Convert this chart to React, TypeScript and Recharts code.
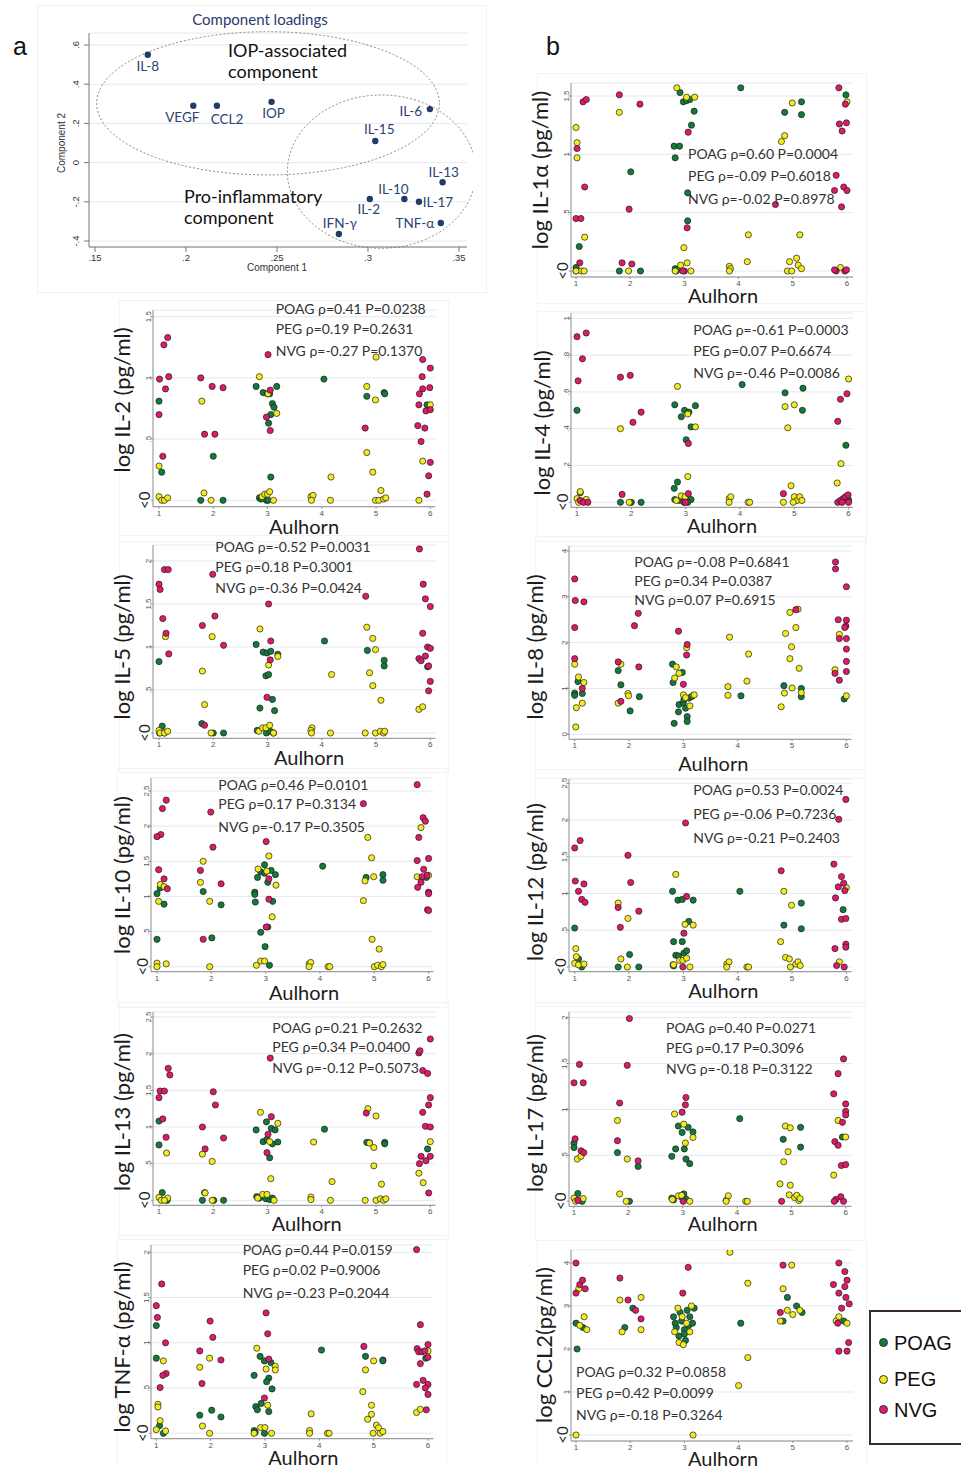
import React from "react";
import { ScatterChart, Scatter, XAxis, YAxis, CartesianGrid, ReferenceArea } from "recharts";

type Pt = [number, number];
type Group = "POAG" | "PEG" | "NVG";

const COLORS: Record<Group, string> = { POAG: "#127a3a", PEG: "#f3ec1c", NVG: "#e1196a" };
const GROUPS: Group[] = ["POAG", "PEG", "NVG"];
const AULHORN_TICKS = [1, 2, 3, 4, 5, 6];

// ---- component loadings ----
const LOAD_NAMES = ["IL-8", "VEGF", "CCL2", "IOP", "IL-6", "IL-15", "IL-13", "IL-10", "IL-2", "IL-17", "TNF-α", "IFN-γ"];
const LOAD_C1 = [0.179, 0.204, 0.217, 0.247, 0.334, 0.304, 0.341, 0.32, 0.301, 0.328, 0.34, 0.284];
const LOAD_C2 = [0.55, 0.29, 0.29, 0.31, 0.273, 0.11, -0.1, -0.186, -0.186, -0.2, -0.308, -0.364];
const LOAD_X_TICKS = [0.15, 0.2, 0.25, 0.3, 0.35];
const LOAD_Y_TICKS = [-0.4, -0.2, 0, 0.2, 0.4, 0.6];

// ---- IL-1α ----
const IL1A_POAG: Pt[] = [[1.0,0.03],[1.0,0],[1.06,0.21],[1.8,0],[2.19,0],[2.01,0.85],[2.81,1.07],[2.83,0.97],[2.91,1.07],[2.92,1.53],[2.98,1.45],[3.04,1.46],[3.1,1.47],[3.18,1.37],[3.13,1.25],[3.06,0.67],[3.06,0.43],[2.83,0.02],[2.85,0],[2.87,0.01],[4.04,1.57],[4.85,1.36],[5.16,1.45],[5.16,1.34],[5.98,1.51]];
const IL1A_PEG: Pt[] = [[1.0,1.23],[1.02,1.1],[1.02,0.97],[1.16,0.29],[1.1,0],[1.15,0],[1.0,0],[1.8,1.36],[1.97,0],[2.86,1.57],[3.04,1.49],[3.19,1.49],[2.99,0.2],[3.05,0.07],[2.93,0.05],[3.12,0],[2.83,0],[3.83,0.04],[3.85,0.02],[3.83,0],[4.18,0.31],[4.16,0.08],[4.79,1.11],[4.85,1.16],[4.99,1.44],[5.13,0.31],[4.94,0.08],[5.07,0.11],[5.1,0.05],[5.16,0.02],[4.9,0],[4.98,0],[6.0,1.45],[5.88,0.03]];
const IL1A_NVG: Pt[] = [[1.13,1.45],[1.19,1.47],[1.02,1.05],[1.16,0.72],[1.0,0.45],[1.09,0.45],[1.07,0.07],[1.8,1.51],[2.18,1.43],[1.98,0.53],[1.85,0.07],[2.03,0.06],[3.07,1.19],[3.05,0.37],[3.0,0],[2.97,0],[5.85,1.57],[5.97,1.43],[5.86,1.26],[5.99,1.27],[5.91,1.2],[5.8,0.82],[5.77,0.69],[5.94,0.72],[6.0,0.69],[4.68,0.57],[5.9,0.55],[5.8,0],[5.77,0.01],[5.96,0],[5.99,0.01]];

// ---- IL-2 ----
const IL2_POAG: Pt[] = [[1.0,0.81],[1.05,0.23],[1.77,0],[2.18,0],[2.0,0.36],[2.79,0.93],[2.92,0.88],[3.04,0.87],[3.0,0.87],[3.17,0.93],[3.09,0.79],[3.12,0.76],[3.06,0.7],[3.02,0.63],[3.06,0.19],[2.85,0.02],[2.88,0.01],[2.98,0],[3.01,0],[4.04,0.99],[4.83,0.85],[5.15,0.88],[5.16,0.87],[5.94,0.78]];
const IL2_PEG: Pt[] = [[1.0,0.28],[1.0,0.03],[1.05,0],[1.1,0],[1.16,0.02],[1.79,0.81],[1.83,0.06],[1.96,0],[2.85,1.01],[3.01,0.87],[3.17,0.71],[2.9,0.03],[2.95,0.05],[3.0,0.05],[3.04,0.07],[3.11,0],[3.8,0.03],[3.84,0.04],[3.81,0],[4.17,0.19],[4.16,0],[5.0,1.17],[4.83,0.39],[4.83,0.93],[4.99,0.82],[4.94,0.23],[5.09,0.08],[4.99,0],[5.05,0],[5.14,0.01],[5.18,0.02],[5.79,0],[5.86,0.32],[6.0,0.78]];
const IL2_NVG: Pt[] = [[1.16,1.33],[1.09,1.27],[1.01,0.99],[1.18,1.01],[1.12,0.91],[1.0,0.7],[1.07,0.36],[1.77,1.0],[1.98,0.93],[2.18,0.92],[1.84,0.54],[2.03,0.54],[3.01,1.19],[3.05,0.9],[2.98,0.68],[3.05,0.57],[5.86,1.15],[6.0,1.08],[5.85,1.01],[5.86,0.91],[5.99,0.92],[5.8,0.87],[5.79,0.78],[5.92,0.73],[6.0,0.74],[5.77,0.61],[5.9,0.59],[5.83,0.48],[6.0,0.31],[5.97,0.2],[5.94,0.05],[4.8,0.59]];

// ---- IL-4 ----
const IL4_POAG: Pt[] = [[1.0,0.5],[1.06,0.052],[1.8,0],[2.0,0],[2.18,0],[2.8,0.53],[3.18,0.525],[2.92,0.465],[2.98,0.5],[3.06,0.49],[3.1,0.41],[3.01,0.34],[2.79,0.076],[2.85,0.11],[2.8,0.015],[2.88,0.01],[3.1,0.015],[3.04,0],[4.04,0.64],[4.83,0.595],[5.16,0.62],[5.15,0.5],[5.95,0.31],[6.0,0.013]];
const IL4_PEG: Pt[] = [[1.0,0.02],[1.06,0.058],[1.17,0.016],[1.03,0],[1.8,0.4],[1.96,0],[2.85,0.63],[3.04,0.48],[3.18,0.41],[3.04,0.14],[2.83,0.01],[2.92,0.035],[2.99,0.03],[3.8,0.02],[3.83,0.03],[3.8,0],[4.15,0],[4.18,0],[4.83,0.52],[5.0,0.53],[4.88,0.405],[4.94,0.09],[5.0,0.03],[5.05,0.01],[5.1,0.03],[5.14,0.01],[4.8,0],[4.98,0],[5.79,0.105],[5.86,0.21],[6.0,0.67]];
const IL4_NVG: Pt[] = [[1.0,0.9],[1.17,0.92],[1.1,0.78],[1.02,0.66],[1.06,0.01],[1.12,0],[1.2,0],[1.8,0.68],[1.98,0.69],[2.18,0.49],[2.03,0.435],[1.83,0.043],[3.05,0.32],[3.05,0.047],[2.97,0],[3.0,0],[4.8,0.047],[5.97,0.59],[5.85,0.56],[5.8,0.44],[5.8,0],[5.85,0.01],[5.9,0.02],[5.94,0.03],[5.99,0.04],[5.88,0],[6.0,0]];

// ---- IL-5 ----
const IL5_POAG: Pt[] = [[1.0,0.83],[1.06,0.08],[1.1,0],[1.01,0],[1.79,0.11],[2.0,0],[2.19,0],[2.79,1.03],[2.92,0.94],[2.99,0.93],[3.06,0.95],[3.19,0.915],[2.97,0.665],[3.02,0.68],[2.86,0.29],[3.09,0.39],[3.13,0.26],[2.81,0.03],[2.98,0],[3.05,0.02],[3.11,0],[4.05,1.07],[4.84,0.96],[5.15,0.845],[5.15,0.78],[5.95,0.77]];
const IL5_PEG: Pt[] = [[1.0,0.03],[1.02,0],[1.1,0],[1.16,0.02],[1.12,1.12],[1.8,0.72],[1.84,0.33],[1.98,1.12],[1.96,0],[2.86,1.21],[3.02,0.79],[3.19,0.89],[2.84,0.02],[2.91,0.06],[2.97,0.06],[3.04,0.09],[3.11,0],[3.82,0.06],[3.8,0.03],[3.81,0],[4.18,0.68],[4.16,0],[4.83,1.23],[4.94,1.1],[4.99,0.97],[4.88,0.7],[4.94,0.55],[5.09,0.38],[4.8,0],[4.99,0],[5.08,0.02],[5.14,0],[5.16,0.02],[5.79,0.275],[5.86,0.305]];
const IL5_NVG: Pt[] = [[1.0,1.73],[1.02,1.67],[1.1,1.9],[1.17,1.9],[1.07,1.33],[1.13,1.16],[1.18,0.92],[1.99,1.845],[2.03,1.36],[1.8,1.25],[2.19,1.02],[1.84,0.09],[3.02,1.5],[3.06,1.07],[3.05,0.85],[2.99,0.415],[4.81,1.59],[5.8,2.14],[5.87,1.73],[5.91,1.56],[6.0,1.47],[5.86,1.16],[5.95,1.0],[6.0,0.985],[5.91,0.895],[5.79,0.865],[5.83,0.84],[5.97,0.78],[6.0,0.6],[5.97,0.49]];

// ---- IL-8 ----
const IL8_POAG: Pt[] = [[1.0,0.9],[1.0,0.85],[1.06,1.15],[1.14,0.89],[1.8,1.39],[1.85,1.08],[2.02,0.51],[2.19,0.82],[2.8,1.53],[2.81,1.13],[2.98,1.35],[2.83,0.24],[2.91,0.49],[2.92,0.65],[3.0,0.69],[3.01,0.76],[3.04,0.57],[3.07,0.385],[3.07,0.28],[3.1,0.79],[3.15,0.82],[4.06,0.84],[4.85,1.06],[5.17,1.0],[5.17,0.82],[5.96,0.77]];
const IL8_PEG: Pt[] = [[1.0,1.53],[1.07,1.25],[1.17,1.13],[1.14,0.68],[1.03,0.58],[1.02,0.16],[1.85,1.53],[1.8,0.68],[1.98,0.89],[1.99,0.84],[2.87,1.47],[2.84,1.23],[2.92,1.33],[3.06,1.89],[3.0,0.86],[3.04,0.8],[3.12,0.62],[3.18,0.85],[3.2,0.86],[3.82,1.04],[3.82,0.85],[3.85,2.12],[4.17,1.16],[4.2,1.75],[4.8,0.6],[4.96,2.66],[4.88,2.2],[4.99,1.91],[4.96,1.65],[4.86,0.9],[5.0,1.01],[5.07,2.33],[5.11,2.73],[5.13,1.44],[5.17,0.91],[5.79,1.41],[5.87,2.18],[6.0,0.84]];
const IL8_NVG: Pt[] = [[1.0,3.39],[1.01,2.92],[1.17,2.89],[1.0,2.33],[1.0,1.65],[1.14,1.0],[1.8,1.58],[1.85,0.72],[2.1,2.37],[2.17,2.64],[2.18,1.47],[2.91,2.25],[3.07,1.96],[3.06,1.73],[3.0,1.09],[5.07,2.72],[5.8,3.76],[5.8,3.61],[6.0,3.22],[5.85,2.5],[6.0,2.49],[5.99,2.36],[5.97,2.33],[5.87,2.09],[6.0,2.09],[6.0,1.86],[6.0,1.59],[6.0,1.37],[5.79,1.33],[5.87,1.18]];

// ---- IL-10 ----
const IL10_POAG: Pt[] = [[1.0,1.04],[1.06,1.12],[1.13,0.89],[1.0,0.39],[1.85,1.07],[2.01,0.41],[2.18,0.88],[2.8,1.06],[2.8,1.03],[2.81,0.92],[2.85,1.27],[2.91,1.35],[2.98,1.45],[2.98,1.33],[3.04,1.2],[3.1,1.37],[3.18,1.31],[3.13,0.93],[2.91,0.49],[2.99,0.285],[3.04,0.565],[3.07,0.02],[4.05,1.43],[4.85,1.27],[5.16,1.31],[5.16,1.23],[5.96,1.27]];
const IL10_PEG: Pt[] = [[1.0,0.05],[1.0,0],[1.17,0.04],[1.03,0.93],[1.06,1.17],[1.13,1.14],[1.8,1.2],[1.85,1.5],[1.97,0.93],[1.97,0],[2.86,1.39],[3.06,1.575],[3.02,1.36],[3.19,1.16],[3.12,0.71],[2.83,0.02],[2.91,0.08],[2.98,0.08],[3.8,0.04],[3.83,0.06],[3.8,0],[4.15,0],[4.18,0],[4.8,0.94],[4.88,1.84],[4.95,1.55],[4.99,1.28],[4.83,1.22],[4.96,0.39],[5.09,0.25],[5.0,0],[5.06,0.02],[5.13,0],[5.16,0.03],[5.86,1.98],[5.79,1.28],[6.0,1.3]];
const IL10_NVG: Pt[] = [[1.17,2.37],[1.1,2.25],[1.07,1.88],[1.0,1.85],[1.03,1.38],[1.13,1.25],[1.19,1.11],[1.99,2.2],[2.03,1.7],[1.8,1.37],[2.18,1.18],[1.85,0.39],[3.01,1.78],[3.06,1.25],[3.06,0.96],[3.01,0.565],[4.8,2.32],[5.79,2.59],[5.9,2.12],[5.94,2.07],[5.82,1.84],[6.0,1.54],[5.79,1.51],[5.91,1.385],[5.97,1.3],[5.88,1.28],[5.86,1.2],[5.8,1.13],[6.0,1.06],[6.0,1.04],[5.98,0.81],[6.0,0.8]];

// ---- IL-12 ----
const IL12_POAG: Pt[] = [[1.0,0.53],[1.07,0.11],[1.13,0],[1.8,0],[2.18,0],[2.01,0.17],[2.8,1.03],[2.9,0.91],[2.98,0.92],[3.18,0.91],[3.1,0.62],[2.82,0.345],[2.98,0.345],[2.86,0.16],[2.91,0.15],[3.01,0.19],[3.06,0.22],[2.81,0.03],[2.82,0.015],[4.04,1.03],[4.85,0.57],[5.17,0.87],[5.17,0.52],[5.94,0.78]];
const IL12_PEG: Pt[] = [[1.02,0.25],[1.03,0.14],[1.0,0.05],[1.07,0.03],[1.17,0.04],[1.8,0.87],[1.98,0.66],[1.85,0.11],[1.97,0],[2.86,1.26],[3.03,0.58],[3.18,0.57],[2.82,0.03],[2.93,0.09],[2.99,0.09],[3.06,0.12],[3.12,0],[3.8,0.04],[3.84,0.07],[3.8,0],[4.17,0],[4.2,0],[4.79,0.345],[4.85,1.03],[4.99,0.84],[4.88,0.13],[4.95,0.11],[4.97,0],[5.07,0.04],[5.11,0.07],[5.15,0.02],[5.87,0.07],[6.0,1.08]];
const IL12_NVG: Pt[] = [[1.0,1.62],[1.1,1.72],[1.01,1.17],[1.07,1.03],[1.17,1.13],[1.13,0.92],[1.19,0.88],[1.98,1.52],[2.03,1.15],[1.8,0.81],[1.84,0.54],[2.18,0.76],[3.04,1.96],[3.06,0.96],[3.01,0.46],[2.99,0],[4.8,1.31],[5.99,2.28],[5.86,2.01],[5.77,1.4],[5.91,1.23],[5.95,1.14],[5.85,1.09],[5.97,1.04],[5.8,0.94],[5.91,0.65],[5.99,0.66],[5.99,0.31],[5.99,0.27],[5.79,0.25],[5.82,0.02],[5.96,0]];

// ---- IL-13 ----
const IL13_POAG: Pt[] = [[1.0,1.08],[1.0,0.755],[1.06,0.105],[1.15,0],[1.8,0],[2.01,0],[2.19,0],[1.84,0.105],[2.79,0.96],[2.98,1.07],[3.07,0.98],[3.14,0.96],[2.92,0.8],[2.99,0.83],[3.09,0.77],[3.19,0.795],[3.04,0.58],[2.8,0.05],[2.85,0.03],[2.91,0.06],[2.97,0.02],[3.04,0.01],[3.09,0.03],[4.05,0.97],[4.83,0.79],[4.88,0.785],[5.16,0.79],[5.16,0.77],[5.95,0.7]];
const IL13_PEG: Pt[] = [[1.0,0.04],[1.04,0],[1.16,0.03],[1.1,0],[1.14,0.645],[1.8,0.63],[1.98,0.53],[1.85,0.1],[1.98,0],[2.87,1.2],[3.19,1.05],[3.04,0.8],[3.06,0.295],[2.82,0.03],[2.91,0.08],[2.99,0.08],[3.12,0],[3.8,0.045],[3.8,0.01],[3.85,0.795],[4.19,0.255],[4.16,0],[4.85,1.25],[5.0,1.15],[4.88,0.78],[4.96,0.72],[4.96,0.47],[5.1,0.22],[4.8,0],[5.0,0],[5.08,0.02],[5.14,0],[5.18,0.02],[5.79,0.37],[5.87,0.24],[6.0,0.8]];
const IL13_NVG: Pt[] = [[1.17,1.8],[1.2,1.71],[1.02,1.49],[1.1,1.49],[1.0,1.4],[1.07,1.11],[1.13,0.86],[2.0,1.48],[2.04,1.3],[1.8,1.0],[1.85,0.7],[2.19,0.85],[3.05,1.94],[3.07,1.14],[3.01,0.9],[2.99,0.65],[4.82,1.19],[5.79,2.01],[5.81,2.04],[6.0,2.2],[5.86,1.77],[5.95,1.73],[6.0,1.4],[5.97,1.3],[5.86,1.2],[5.91,1.01],[6.0,1.0],[5.83,0.6],[6.0,0.6],[5.92,0.54],[5.8,0.5],[5.97,0.1]];

// ---- IL-17 ----
const IL17_POAG: Pt[] = [[1.0,0.635],[1.0,0.585],[1.07,0.085],[1.15,0],[1.8,0.53],[2.02,0],[2.18,0.38],[2.8,0.49],[2.87,0.57],[2.92,0.82],[2.99,0.75],[3.03,0.57],[3.1,0.805],[3.19,0.755],[3.06,0.46],[3.13,0.41],[2.8,0.035],[2.83,0.015],[2.97,0.05],[3.02,0.08],[3.06,0.025],[4.05,0.9],[4.85,0.675],[5.17,0.805],[5.17,0.59],[5.94,0.7]];
const IL17_PEG: Pt[] = [[1.0,0.035],[1.03,0],[1.17,0.03],[1.06,0.46],[1.13,0.49],[1.8,0.88],[1.98,0.46],[1.84,0.08],[1.96,0],[2.85,0.95],[3.02,0.84],[3.05,0.635],[3.19,0.695],[2.81,0.02],[2.92,0.06],[2.98,0.065],[3.13,0],[3.8,0.01],[3.84,0.06],[3.8,0],[4.16,0],[4.19,0],[4.79,0.19],[4.86,0.43],[4.89,0.82],[4.98,0.8],[4.94,0.54],[4.96,0.07],[4.98,0.175],[5.06,0.04],[5.1,0.065],[5.14,0.01],[5.16,0.03],[5.78,0.285],[5.86,0.88],[6.0,0.7]];
const IL17_NVG: Pt[] = [[1.1,1.49],[1.0,1.29],[1.17,1.29],[1.02,0.68],[1.13,0.55],[1.18,0.53],[1.07,0.01],[2.02,1.99],[1.98,1.48],[1.84,1.07],[1.8,0.66],[2.18,0.44],[3.06,1.13],[3.05,1.05],[2.99,0.97],[3.01,0],[4.82,0],[5.96,1.55],[5.86,1.39],[5.78,1.17],[6.0,1.06],[6.0,0.98],[6.0,0.94],[5.94,0.86],[5.8,0.65],[5.86,0.61],[5.92,0.39],[6.0,0.4],[5.91,0.05],[5.82,0.02],[5.79,0],[5.96,0]];

// ---- TNF-α ----
const TNF_POAG: Pt[] = [[1.0,1.19],[1.0,0.83],[1.06,0.085],[1.13,0],[1.8,0.2],[2.02,0.255],[2.19,0.18],[2.8,0.64],[2.91,0.85],[2.99,0.8],[3.11,0.78],[3.07,0.61],[3.03,0.57],[3.13,0.49],[2.83,0.295],[2.93,0.33],[2.86,0.26],[3.07,0.24],[2.8,0.03],[2.82,0.01],[2.99,0],[4.04,0.92],[4.85,0.85],[5.17,0.81],[5.17,0.8],[5.96,0.83]];
const TNF_PEG: Pt[] = [[1.0,0.04],[1.07,0.14],[1.17,0.026],[1.03,0.32],[1.03,0.29],[1.13,0.8],[1.8,0.73],[1.98,0.83],[1.85,0.08],[1.98,0],[2.85,0.94],[3.02,0.71],[3.19,0.74],[3.19,0.7],[3.05,0.31],[2.92,0.063],[3.0,0.063],[3.12,0],[2.8,0],[3.82,0.03],[3.82,0],[3.85,0.215],[4.15,0],[4.18,0],[4.8,0.46],[4.85,0.7],[5.0,0.8],[4.96,0.31],[4.96,0.21],[4.89,0.155],[5.05,0.09],[5.09,0.06],[5.12,0],[5.17,0.02],[4.99,0],[5.79,0.23],[5.86,0.265],[6.0,0.91]];
const TNF_NVG: Pt[] = [[1.1,1.65],[1.0,1.41],[1.02,1.28],[1.17,1.0],[1.18,0.66],[1.12,0.64],[1.07,0.505],[1.99,1.24],[2.04,1.06],[1.8,0.91],[1.84,0.55],[2.19,0.81],[3.02,1.33],[3.05,1.1],[3.07,0.82],[2.99,0.39],[4.82,0.96],[5.79,2.03],[5.86,1.2],[6.0,0.98],[5.8,0.935],[5.83,0.9],[5.89,0.9],[5.94,0.91],[6.0,0.84],[5.86,0.77],[5.91,0.585],[5.79,0.54],[6.0,0.54],[5.95,0.5],[6.0,0.43],[5.97,0.26]];

// ---- CCL2 ----
const CCL2_POAG: Pt[] = [[1.0,2.6],[1.13,2.5],[1.02,2.0],[1.9,2.5],[2.05,2.95],[2.8,2.75],[2.85,2.5],[2.9,2.3],[2.95,2.65],[3.0,2.45],[3.02,2.2],[3.05,2.9],[3.08,2.55],[3.1,2.75],[3.15,2.6],[3.18,2.95],[2.83,2.6],[2.92,2.85],[3.0,2.35],[4.04,2.6],[4.9,3.2],[5.07,3.0],[4.82,2.65],[5.17,2.85],[5.94,2.65]];
const CCL2_PEG: Pt[] = [[1.0,0],[1.05,3.4],[1.07,2.55],[1.2,2.45],[1.15,2.75],[1.81,3.14],[2.2,3.2],[2.2,2.45],[1.85,2.4],[2.88,2.95],[2.82,2.4],[2.9,2.15],[2.96,2.75],[3.04,2.6],[3.1,2.4],[3.13,3.0],[2.98,2.1],[3.16,0],[3.84,4.25],[4.17,3.53],[4.17,1.8],[4.0,1.15],[4.98,3.95],[4.82,3.4],[4.9,2.9],[5.13,2.9],[4.77,2.65],[5.0,2.8],[5.8,2.65],[6.0,2.6],[5.85,2.75]];
const CCL2_NVG: Pt[] = [[1.0,4.0],[1.07,3.5],[1.17,3.4],[1.0,3.3],[1.12,3.6],[1.81,3.65],[1.96,3.14],[2.1,2.9],[2.2,2.7],[3.07,3.9],[2.97,3.3],[4.82,3.95],[4.77,2.85],[5.85,4.0],[5.96,3.8],[5.75,3.5],[6.0,3.6],[5.85,3.3],[5.98,3.2],[5.9,2.95],[6.04,3.05],[5.83,2.6],[6.03,2.15],[5.85,1.95],[6.0,1.95],[5.96,3.45]];

// ---- text ----
const IL1A_STATS = ["POAG ρ=0.60 P=0.0004", "PEG ρ=-0.09 P=0.6018", "NVG ρ=-0.02 P=0.8978"];
const IL2_STATS = ["POAG ρ=0.41 P=0.0238", "PEG ρ=0.19 P=0.2631", "NVG ρ=-0.27 P=0.1370"];
const IL4_STATS = ["POAG ρ=-0.61 P=0.0003", "PEG ρ=0.07 P=0.6674", "NVG ρ=-0.46 P=0.0086"];
const IL5_STATS = ["POAG ρ=-0.52 P=0.0031", "PEG ρ=0.18 P=0.3001", "NVG ρ=-0.36 P=0.0424"];
const IL8_STATS = ["POAG ρ=-0.08 P=0.6841", "PEG ρ=0.34 P=0.0387", "NVG ρ=0.07 P=0.6915"];
const IL10_STATS = ["POAG ρ=0.46 P=0.0101", "PEG ρ=0.17 P=0.3134", "NVG ρ=-0.17 P=0.3505"];
const IL12_STATS = ["POAG ρ=0.53 P=0.0024", "PEG ρ=-0.06 P=0.7236", "NVG ρ=-0.21 P=0.2403"];
const IL13_STATS = ["POAG ρ=0.21 P=0.2632", "PEG ρ=0.34 P=0.0400", "NVG ρ=-0.12 P=0.5073"];
const IL17_STATS = ["POAG ρ=0.40 P=0.0271", "PEG ρ=0.17 P=0.3096", "NVG ρ=-0.18 P=0.3122"];
const TNF_STATS = ["POAG ρ=0.44 P=0.0159", "PEG ρ=0.02 P=0.9006", "NVG ρ=-0.23 P=0.2044"];
const CCL2_STATS = ["POAG ρ=0.32 P=0.0858", "PEG ρ=0.42 P=0.0099", "NVG ρ=-0.18 P=0.3264"];

const TICKS_15 = [0, 0.5, 1, 1.5];
const TICKS_1 = [0, 0.2, 0.4, 0.6, 0.8, 1];
const TICKS_2 = [0, 0.5, 1, 1.5, 2];
const TICKS_25 = [0, 0.5, 1, 1.5, 2, 2.5];
const TICKS_4 = [0, 1, 2, 3, 4];

const SANS = "Lato, 'Open Sans', sans-serif";
const ARIAL = "'Liberation Sans', Arial, sans-serif";

interface Box { ax: number; ar: number; at: number; ay: number; px1: number; px6: number; py0: number; pyT: number }
interface Panel {
  yLabel: string;
  stats: string[];
  data: Record<Group, Pt[]>;
  top: number;
  ticks: number[];
  zeroText: string;
  box: Box;
  statsX: number;
  statsY: number[];
  labelAt: [number, number];
  aulAt: [number, number];
}

const PANELS: Panel[] = [
  { yLabel: "log IL-1α (pg/ml)", stats: IL1A_STATS, data: { POAG: IL1A_POAG, PEG: IL1A_PEG, NVG: IL1A_NVG }, top: 1.5, ticks: TICKS_15, zeroText: "<0",
    box: { ax: 571, ar: 853, at: 83, ay: 277, px1: 576, px6: 847, py0: 271, pyT: 96 }, statsX: 688, statsY: [154, 176, 199], labelAt: [540, 170], aulAt: [723, 295] },
  { yLabel: "log IL-2 (pg/ml)", stats: IL2_STATS, data: { POAG: IL2_POAG, PEG: IL2_PEG, NVG: IL2_NVG }, top: 1.5, ticks: TICKS_15, zeroText: "<0",
    box: { ax: 152.7, ar: 435, at: 310, ay: 506.7, px1: 158.7, px6: 430, py0: 500.3, pyT: 316.7 }, statsX: 275.7, statsY: [309, 329, 351], labelAt: [122, 400], aulAt: [304, 526] },
  { yLabel: "log IL-4 (pg/ml)", stats: IL4_STATS, data: { POAG: IL4_POAG, PEG: IL4_PEG, NVG: IL4_NVG }, top: 1, ticks: TICKS_1, zeroText: "<0",
    box: { ax: 570.7, ar: 852.7, at: 313, ay: 507.3, px1: 576.7, px6: 848.3, py0: 502.3, pyT: 318.3 }, statsX: 693.3, statsY: [330, 350.7, 372.7], labelAt: [541.7, 423], aulAt: [722, 525] },
  { yLabel: "log IL-5 (pg/ml)", stats: IL5_STATS, data: { POAG: IL5_POAG, PEG: IL5_PEG, NVG: IL5_NVG }, top: 2, ticks: TICKS_2, zeroText: "<0",
    box: { ax: 152.7, ar: 435, at: 545, ay: 738.3, px1: 158.7, px6: 430, py0: 733, pyT: 561 }, statsX: 215.3, statsY: [546.7, 567.3, 588.3], labelAt: [122, 646.7], aulAt: [309, 756.7] },
  { yLabel: "log IL-8 (pg/ml)", stats: IL8_STATS, data: { POAG: IL8_POAG, PEG: IL8_PEG, NVG: IL8_NVG }, top: 4, ticks: TICKS_4, zeroText: "0",
    box: { ax: 569.3, ar: 851.7, at: 546, ay: 739.3, px1: 575, px6: 846.7, py0: 734.3, pyT: 551 }, statsX: 634.3, statsY: [561.7, 581, 600], labelAt: [535, 646.7], aulAt: [713.3, 762.7] },
  { yLabel: "log IL-10 (pg/ml)", stats: IL10_STATS, data: { POAG: IL10_POAG, PEG: IL10_PEG, NVG: IL10_NVG }, top: 2.5, ticks: TICKS_25, zeroText: "<0",
    box: { ax: 150.7, ar: 433, at: 778, ay: 971.7, px1: 156.7, px6: 428.3, py0: 966.7, pyT: 791 }, statsX: 218.3, statsY: [785, 804, 826.7], labelAt: [121.7, 875], aulAt: [304, 991.7] },
  { yLabel: "log IL-12 (pg/ml)", stats: IL12_STATS, data: { POAG: IL12_POAG, PEG: IL12_PEG, NVG: IL12_NVG }, top: 2.5, ticks: TICKS_25, zeroText: "<0",
    box: { ax: 569.3, ar: 851.7, at: 779, ay: 971.7, px1: 575, px6: 846.7, py0: 967, pyT: 783.3 }, statsX: 693.3, statsY: [790, 814, 837.7], labelAt: [535, 881.7], aulAt: [723.3, 990] },
  { yLabel: "log IL-13 (pg/ml)", stats: IL13_STATS, data: { POAG: IL13_POAG, PEG: IL13_PEG, NVG: IL13_NVG }, top: 2.5, ticks: TICKS_25, zeroText: "<0",
    box: { ax: 152.7, ar: 435, at: 1011.7, ay: 1205, px1: 158.7, px6: 430, py0: 1200, pyT: 1016.7 }, statsX: 272.3, statsY: [1027.7, 1046.7, 1068.3], labelAt: [122.3, 1111.7], aulAt: [306.7, 1223] },
  { yLabel: "log IL-17 (pg/ml)", stats: IL17_STATS, data: { POAG: IL17_POAG, PEG: IL17_PEG, NVG: IL17_NVG }, top: 2, ticks: TICKS_2, zeroText: "<0",
    box: { ax: 569.3, ar: 851.7, at: 1011.7, ay: 1206, px1: 574.3, px6: 846, py0: 1201, pyT: 1017.3 }, statsX: 666, statsY: [1028.3, 1047.7, 1069], labelAt: [535, 1113.3], aulAt: [722.7, 1223.3] },
  { yLabel: "log TNF-α (pg/ml)", stats: TNF_STATS, data: { POAG: TNF_POAG, PEG: TNF_PEG, NVG: TNF_NVG }, top: 2, ticks: TICKS_2, zeroText: "<0",
    box: { ax: 150.7, ar: 433, at: 1245, ay: 1438.7, px1: 156, px6: 427.7, py0: 1433.3, pyT: 1252.3 }, statsX: 242.7, statsY: [1250, 1270, 1292.7], labelAt: [122.3, 1346.7], aulAt: [303.3, 1456.7] },
  { yLabel: "log CCL2(pg/ml)", stats: CCL2_STATS, data: { POAG: CCL2_POAG, PEG: CCL2_PEG, NVG: CCL2_NVG }, top: 4, ticks: TICKS_4, zeroText: "<0",
    box: { ax: 571, ar: 853, at: 1250, ay: 1441, px1: 576, px6: 847, py0: 1435, pyT: 1263 }, statsX: 576, statsY: [1372, 1393, 1415], labelAt: [544, 1345], aulAt: [723, 1458] },
];

// label offsets for the loadings plot (px, from point to label centre)
const LOAD_LABEL_OFFSET: Record<string, [number, number]> = {
  "IL-8": [0, 11], VEGF: [-11, 11], CCL2: [10, 13], IOP: [2, 11], "IL-6": [-19, 2], "IL-15": [4, -12],
  "IL-13": [1, -10], "IL-10": [-11, -10], "IL-2": [-1, 10], "IL-17": [19, 0], "TNF-α": [-26, 0], "IFN-γ": [1, -11],
};

function fmtTick(v: number) {
  if (v === 0) return "0";
  const s = String(Math.abs(v)).replace(/^0\./, ".");
  return (v < 0 ? "-" : "") + s;
}

const toPts = (arr: Pt[]) => arr.map(([x, y]) => ({ x, y }));

const dot = (color: string) => (p: any) => (
  <circle cx={p.cx} cy={p.cy} r={3.1} fill={color} stroke="#1e1e1e" strokeWidth={0.7} />
);

const PAD_L = 60, PAD_R = 6, PAD_T = 6, PAD_B = 24;

function XTick(t: any) {
  return (
    <text x={t.x} y={t.y + 5} textAnchor="middle" fontSize={8} fill="#555" fontFamily={ARIAL}>
      {t.payload.value}
    </text>
  );
}

function YTick({ y, payload, zeroText }: any) {
  const isLt = payload.value === 0 && zeroText === "<0";
  const bx = isLt ? PAD_L - 3 : PAD_L - 2;
  const label = payload.value === 0 ? zeroText : fmtTick(payload.value);
  return (
    <text x={bx} y={y} transform={`rotate(-90 ${bx} ${y})`} textAnchor="middle"
      fontSize={isLt ? 15 : 8} fill={isLt ? "#222" : "#555"} fontFamily={isLt ? SANS : ARIAL}>
      {label}
    </text>
  );
}

// faint frame round each panel, drawn before everything else
function PanelFrame({ p }: { p: Panel }) {
  const { ax, ar, at, ay } = p.box;
  const frameBottom = Math.max(ay + 33, p.aulAt[1] + 14);
  return (
    <div style={{ position: "absolute", left: ax - 34, top: at - 10, width: ar - ax + 46, height: frameBottom - (at - 10), border: "1px solid #f3f3f3" }} />
  );
}

function CytokinePanel({ p }: { p: Panel }) {
  const { ax, ar, at, ay, px1, px6, py0, pyT } = p.box;
  const sx = (px6 - px1) / 5;
  const sy = (py0 - pyT) / p.top;
  const xDomain = [1 + (ax - px1) / sx, 1 + (ar - px1) / sx];
  const yDomain = [(py0 - ay) / sy, (py0 - at) / sy];
  const w = ar - ax + PAD_L + PAD_R;
  const h = ay - at + PAD_T + PAD_B;
  return (
    <div style={{ position: "absolute", left: ax - PAD_L, top: at - PAD_T }}>
      <ScatterChart width={w} height={h} margin={{ top: PAD_T, right: PAD_R, bottom: 0, left: 0 }}>
        <CartesianGrid vertical={false} stroke="#e3e9ee" />
        <XAxis type="number" dataKey="x" domain={xDomain} allowDataOverflow ticks={AULHORN_TICKS} interval={0}
          height={PAD_B} stroke="#8c8c8c" tickSize={2} tick={XTick} />
        <YAxis type="number" dataKey="y" domain={yDomain} allowDataOverflow ticks={p.ticks} interval={0}
          width={PAD_L} stroke="#8c8c8c" tickSize={2} tick={(t: any) => <YTick {...t} zeroText={p.zeroText} />} />
        {GROUPS.map((g) => (
          <Scatter key={g} name={g} data={toPts(p.data[g])} isAnimationActive={false} shape={dot(COLORS[g])} />
        ))}
      </ScatterChart>
    </div>
  );
}

function PanelTexts({ p }: { p: Panel }) {
  return (
    <>
      {p.stats.map((s, i) => (
        <div key={i} style={{ position: "absolute", left: p.statsX, top: p.statsY[i], transform: "translateY(-50%)",
          fontFamily: SANS, fontSize: 14, color: "#333", whiteSpace: "nowrap", lineHeight: 1 }}>{s}</div>
      ))}
      <div style={{ position: "absolute", left: p.labelAt[0], top: p.labelAt[1], transform: "translate(-50%, -50%) rotate(-90deg)",
        fontFamily: SANS, fontSize: 22, color: "#1c1c1c", whiteSpace: "nowrap", lineHeight: 1 }}>{p.yLabel}</div>
      <div style={{ position: "absolute", left: p.aulAt[0], top: p.aulAt[1], transform: "translate(-50%, -50%)",
        fontFamily: SANS, fontSize: 20, color: "#1c1c1c", whiteSpace: "nowrap", lineHeight: 1 }}>Aulhorn</div>
    </>
  );
}

const EllipseShape = (p: any) => (
  <ellipse cx={p.x + p.width / 2} cy={p.y + p.height / 2} rx={Math.abs(p.width) / 2} ry={Math.abs(p.height) / 2}
    fill="none" stroke="#7a7a7a" strokeWidth={0.9} strokeDasharray="2 2" />
);

function LoadingsPanel() {
  const ax = 89, ar = 467, at = 33, ay = 247;
  const px15 = 95, px35 = 459, py6 = 45, pym4 = 241;
  const sx = (px35 - px15) / 0.2;
  const sy = (pym4 - py6) / 1.0;
  const xDomain = [0.15 + (ax - px15) / sx, 0.15 + (ar - px15) / sx];
  const yDomain = [0.6 - (ay - py6) / sy, 0.6 + (py6 - at) / sy];
  const LL = 40, LB = 30, LT = 6, LR = 6;
  const data = LOAD_NAMES.map((n, i) => ({ name: n, x: LOAD_C1[i], y: LOAD_C2[i] }));
  const shape = (p: any) => {
    const [dx, dy] = LOAD_LABEL_OFFSET[p.payload.name] || [0, 0];
    return (
      <g>
        <circle cx={p.cx} cy={p.cy} r={3.2} fill="#213c6a" />
        <text x={p.cx + dx} y={p.cy + dy} textAnchor="middle" dominantBaseline="central" fontSize={13.5}
          fill="#2b4472" fontFamily={SANS}>{p.payload.name}</text>
      </g>
    );
  };
  return (
    <>
      <div style={{ position: "absolute", left: 37, top: 5, width: 448, height: 286, border: "1px solid #eef0f3" }} />
      <div style={{ position: "absolute", left: 0, top: 19, width: 520, textAlign: "center", transform: "translateY(-50%)",
        fontFamily: SANS, fontSize: 15, color: "#2d3a6d", lineHeight: 1 }}>Component loadings</div>
      <div style={{ position: "absolute", left: ax - LL, top: at - LT }}>
        <ScatterChart width={ar - ax + LL + LR} height={ay - at + LT + LB} margin={{ top: LT, right: LR, bottom: 0, left: 0 }}>
          <CartesianGrid vertical={false} stroke="#e4eaf0" />
          <XAxis type="number" dataKey="x" domain={xDomain} allowDataOverflow ticks={LOAD_X_TICKS} interval={0}
            height={LB} stroke="#777" tickSize={5}
            tick={(t: any) => (
              <text x={t.x} y={t.y + 7} textAnchor="middle" fontSize={9.5} fill="#333" fontFamily={ARIAL}>{fmtTick(t.payload.value)}</text>
            )} />
          <YAxis type="number" dataKey="y" domain={yDomain} allowDataOverflow ticks={LOAD_Y_TICKS} interval={0}
            width={LL} stroke="#777" tickSize={5}
            tick={(t: any) => {
              const bx = LL - 10;
              return (
                <text x={bx} y={t.y} transform={`rotate(-90 ${bx} ${t.y})`} textAnchor="middle" fontSize={9.5}
                  fill="#333" fontFamily={ARIAL}>{fmtTick(t.payload.value)}</text>
              );
            }} />
          <ReferenceArea x1={0.1509} x2={0.3392} y1={-0.063} y2={0.668} ifOverflow="visible" shape={EllipseShape} />
          <ReferenceArea x1={0.2557} x2={0.3593} y1={-0.437} y2={0.345} ifOverflow="visible" shape={EllipseShape} />
          <Scatter data={data} isAnimationActive={false} shape={shape} />
        </ScatterChart>
      </div>
      <div style={{ position: "absolute", left: 62, top: 143, transform: "translate(-50%, -50%) rotate(-90deg)",
        fontFamily: ARIAL, fontSize: 10, color: "#333", whiteSpace: "nowrap", lineHeight: 1 }}>Component 2</div>
      <div style={{ position: "absolute", left: 277, top: 268, transform: "translate(-50%, -50%)",
        fontFamily: ARIAL, fontSize: 10, color: "#333", whiteSpace: "nowrap", lineHeight: 1 }}>Component 1</div>
      <div style={{ position: "absolute", left: 228, top: 40, fontFamily: SANS, fontSize: 18, color: "#111", lineHeight: "21px" }}>
        IOP-associated<br />component
      </div>
      <div style={{ position: "absolute", left: 184, top: 186, fontFamily: SANS, fontSize: 18, color: "#111", lineHeight: "21px" }}>
        Pro-inflammatory<br />component
      </div>
    </>
  );
}

function LegendBox() {
  const rows: [Group, number][] = [["POAG", 1342.7], ["PEG", 1379], ["NVG", 1409.5]];
  return (
    <div style={{ position: "absolute", left: 869, top: 1310, width: 110, height: 131, border: "2px solid #3a2b2b", background: "#fff" }}>
      {rows.map(([g, y]) => (
        <div key={g} style={{ position: "absolute", left: 8, top: y - 1312, transform: "translateY(-50%)", display: "flex", alignItems: "center" }}>
          <span style={{ display: "inline-block", width: 7, height: 7, borderRadius: "50%", background: COLORS[g], border: "1px solid #333" }} />
          <span style={{ marginLeft: 6, fontFamily: ARIAL, fontSize: 20, color: "#111", lineHeight: 1 }}>{g}</span>
        </div>
      ))}
    </div>
  );
}

export default function App() {
  return (
    <div style={{ position: "absolute", left: 0, top: 0, width: 961, height: 1467, background: "#fff", overflow: "hidden" }}>
      {PANELS.map((p, i) => (
        <PanelFrame key={"f" + i} p={p} />
      ))}
      <div style={{ position: "absolute", left: 13, top: 34, fontFamily: ARIAL, fontSize: 25, color: "#111", lineHeight: 1 }}>a</div>
      <div style={{ position: "absolute", left: 546, top: 34, fontFamily: ARIAL, fontSize: 25, color: "#111", lineHeight: 1 }}>b</div>
      <LoadingsPanel />
      {PANELS.map((p, i) => (
        <CytokinePanel key={"c" + i} p={p} />
      ))}
      {PANELS.map((p, i) => (
        <PanelTexts key={"t" + i} p={p} />
      ))}
      <LegendBox />
    </div>
  );
}
